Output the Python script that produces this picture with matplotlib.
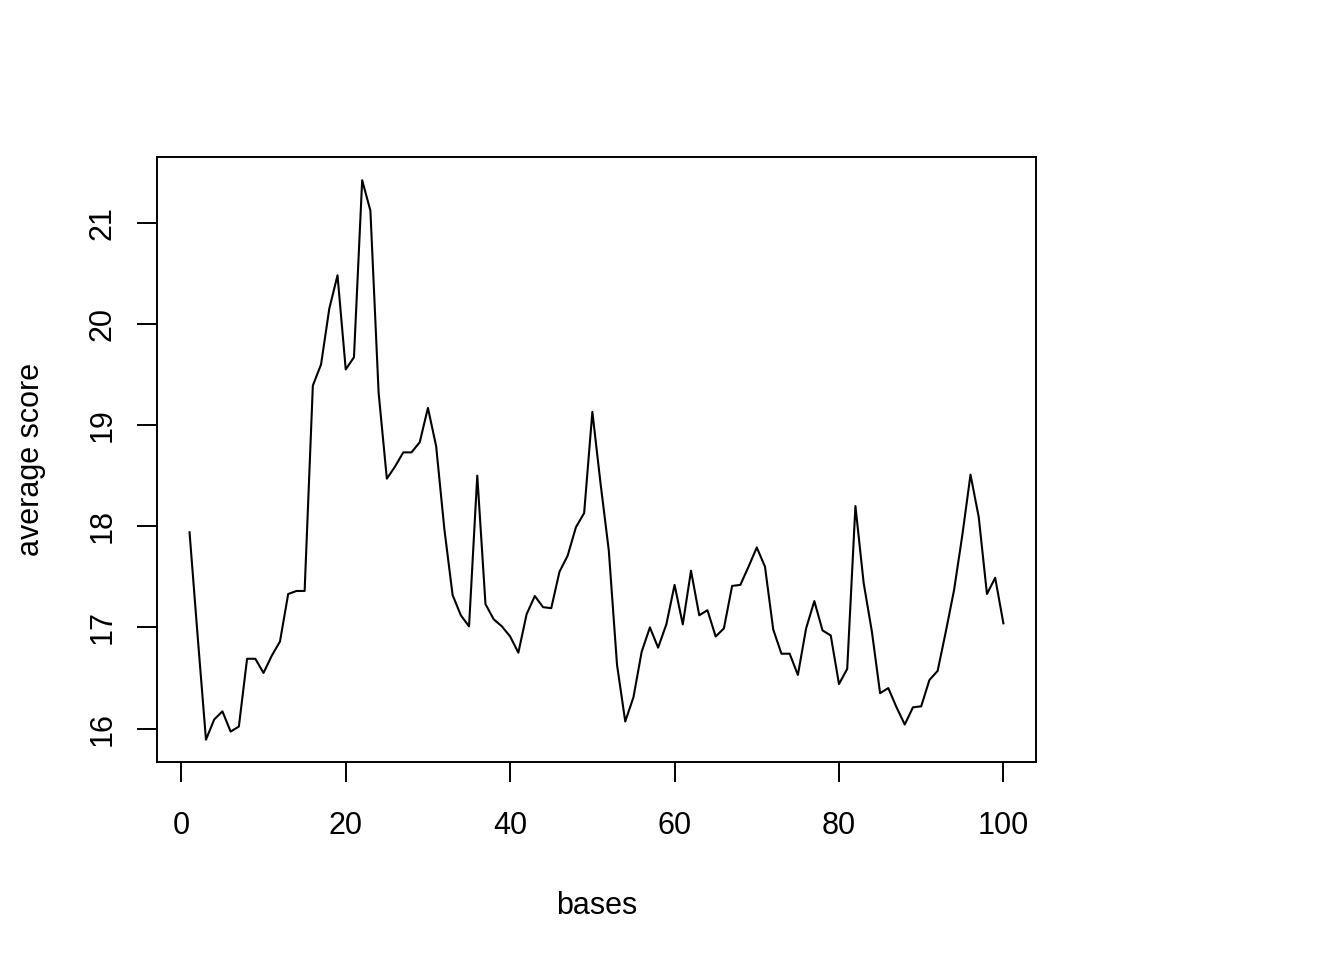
import matplotlib.pyplot as plt

plt.rcParams['font.family'] = ['Liberation Sans', 'DejaVu Sans']

# valori: punteggio medio per posizione (basi 1..100)
basi = list(range(1, 101))
punteggio = [
    17.94, 16.90, 15.89, 16.09, 16.17, 15.97, 16.02, 16.69, 16.69, 16.55,
    16.72, 16.86, 17.33, 17.36, 17.36, 19.39, 19.60, 20.15, 20.48, 19.55,
    19.67, 21.42, 21.12, 19.32, 18.47, 18.59, 18.73, 18.73, 18.83, 19.17,
    18.79, 17.97, 17.32, 17.12, 17.01, 18.50, 17.23, 17.08, 17.01, 16.91,
    16.75, 17.13, 17.31, 17.20, 17.19, 17.55, 17.71, 17.99, 18.13, 19.13,
    18.42, 17.76, 16.63, 16.07, 16.31, 16.76, 17.00, 16.80, 17.03, 17.42,
    17.03, 17.56, 17.12, 17.17, 16.91, 16.99, 17.41, 17.42, 17.60, 17.79,
    17.60, 16.98, 16.74, 16.74, 16.53, 16.99, 17.26, 16.97, 16.92, 16.44,
    16.59, 18.20, 17.44, 16.96, 16.35, 16.40, 16.21, 16.04, 16.21, 16.22,
    16.48, 16.57, 16.96, 17.37, 17.91, 18.51, 18.09, 17.33, 17.49, 17.04,
]
xticks = [0, 20, 40, 60, 80, 100]
yticks = [16, 17, 18, 19, 20, 21]

fig = plt.figure(figsize=(13.44, 9.6), dpi=100)
ax = fig.add_axes([0.1168, 0.2063, 0.7708 - 0.1168, 0.8365 - 0.2063])
ax.plot(basi, punteggio, color='black', linewidth=1.5)

# margini stile R (4%)
ax.set_xlim(-2.96, 103.96)
ax.set_ylim(15.67, 21.65)
ax.set_xticks(xticks)
ax.set_yticks(yticks)
for s in ax.spines.values():
    s.set_linewidth(1.4)
ax.tick_params(axis='both', direction='out', length=14.4, width=1.4,
               labelsize=22)
ax.tick_params(axis='x', pad=21)
ax.tick_params(axis='y', pad=14)
for lab in ax.get_yticklabels():
    lab.set_rotation(90)
    lab.set_verticalalignment('center')

ax.set_xlabel('bases', fontsize=22, labelpad=36)
ax.set_ylabel('average score', fontsize=22, labelpad=30)

fig.savefig('out.png', dpi=100)
